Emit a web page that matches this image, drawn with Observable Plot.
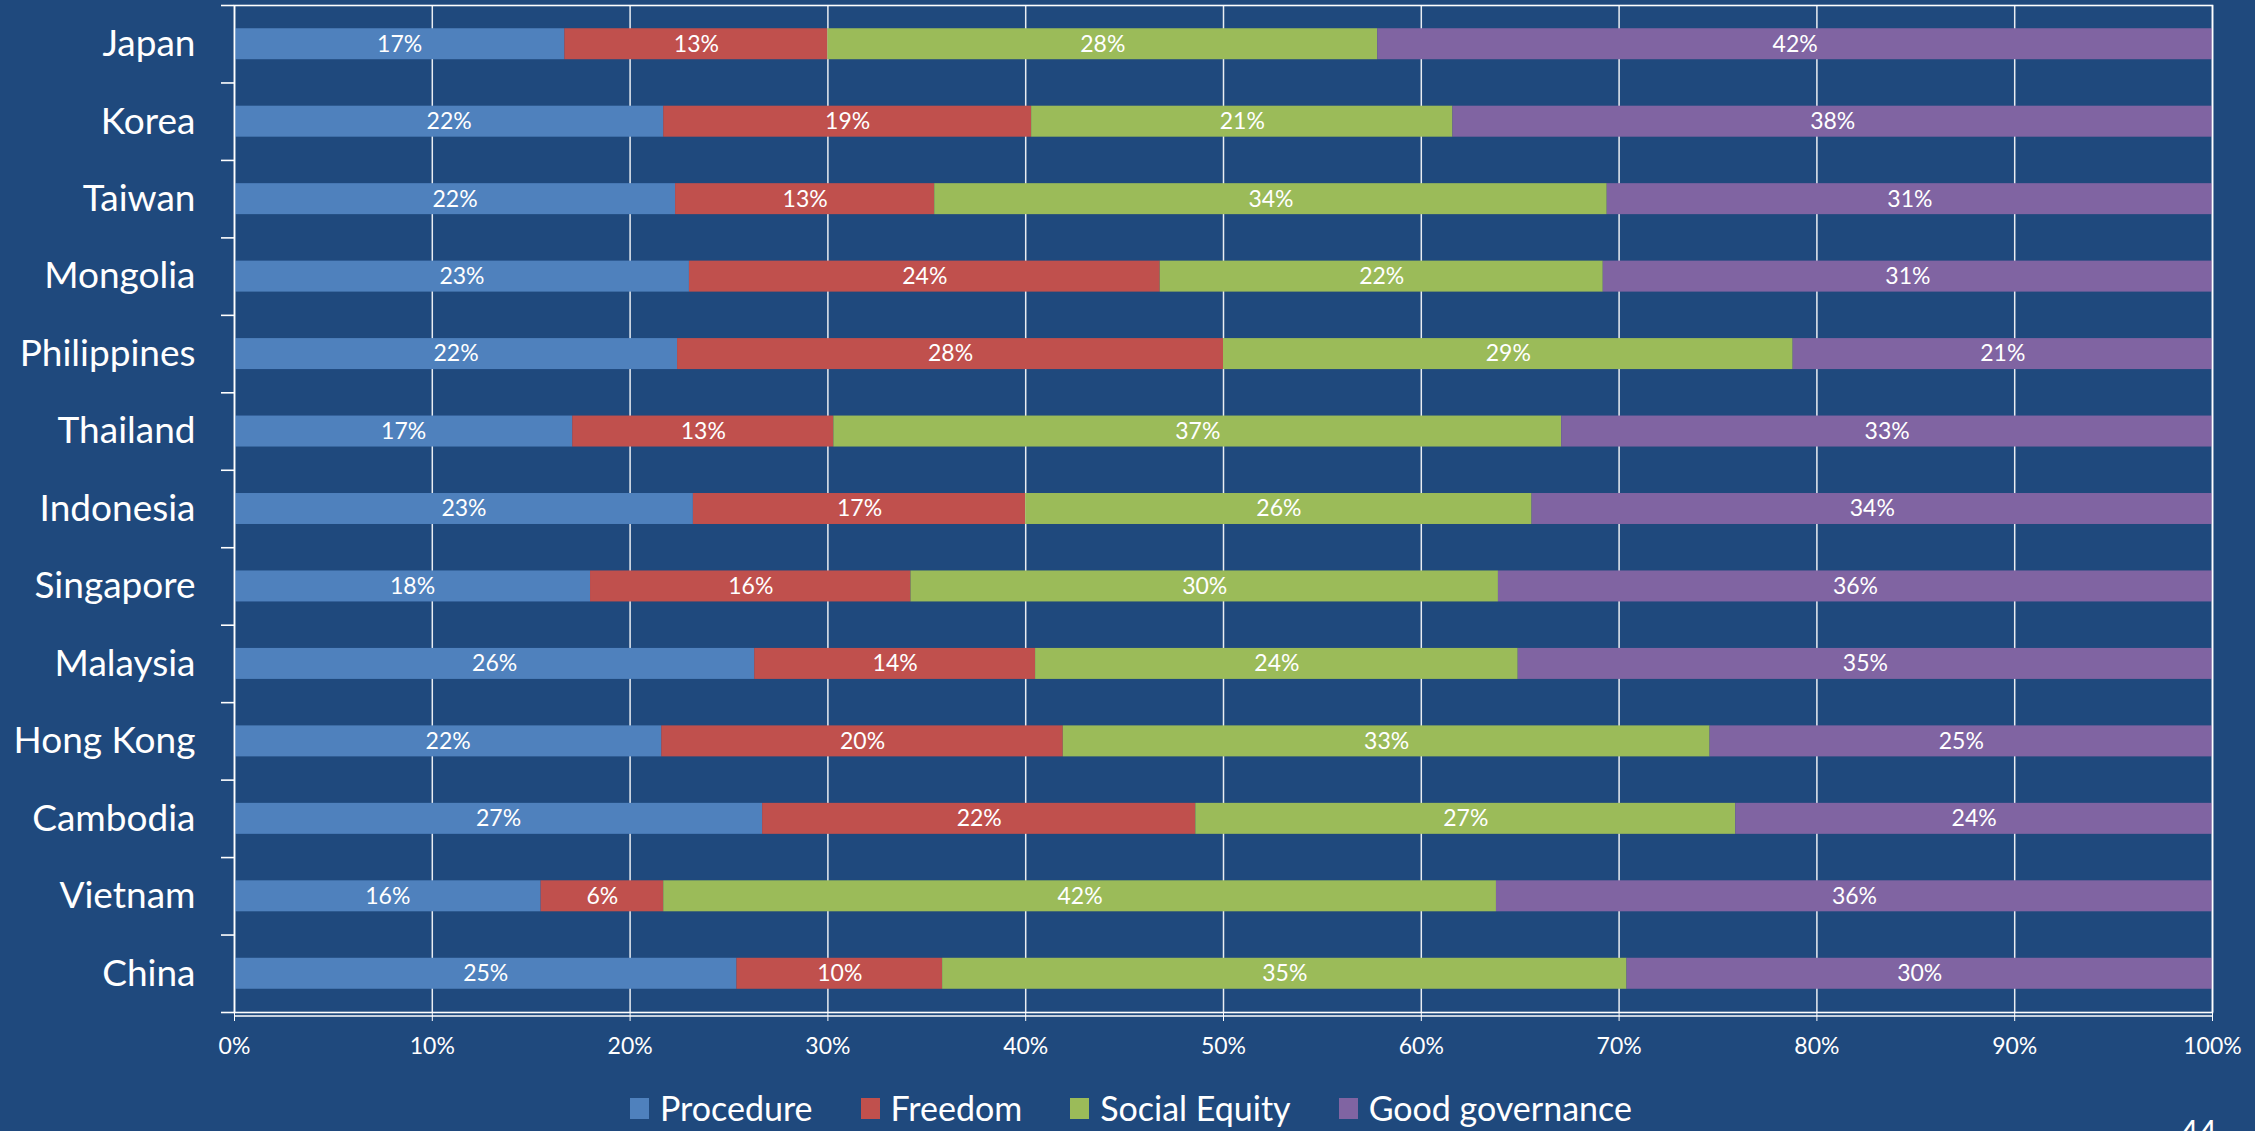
<!DOCTYPE html>
<html>
<head>
<meta charset="utf-8">
<script src="https://cdn.jsdelivr.net/npm/d3@7"></script>
<script src="https://cdn.jsdelivr.net/npm/@observablehq/plot@0.6"></script>
<style>
  html, body { margin: 0; padding: 0; background: #1F497D; width: 2255px; height: 1131px; overflow: hidden; }
  body { position: relative; font-family: Lato, "Open Sans", sans-serif; color: #fff; }
  #chart { position: absolute; left: 0; top: 0; }
  #legend { position: absolute; left: 630px; top: 1086px; display: flex; align-items: center; font-size: 34px; line-height: 44px; white-space: nowrap; }
  .item { display: flex; align-items: center; margin-right: 48px; }
  .sw { width: 19px; height: 21px; margin-right: 11px; }
  #page { position: absolute; left: 2180px; top: 1112px; font-size: 32px; }
</style>
</head>
<body>
<div id="chart"></div>
<div id="legend"></div>
<div id="page">44</div>
<script>
const countries = ["Japan","Korea","Taiwan","Mongolia","Philippines","Thailand","Indonesia","Singapore","Malaysia","Hong Kong","Cambodia","Vietnam","China"];
const categories = ["Procedure","Freedom","Social Equity","Good governance"];
const colors = ["#4F81BD","#C0504D","#9BBB59","#8064A2"];
const procedure      = [16.7,21.7,22.3,23.0,22.4,17.1,23.2,18.0,26.3,21.6,26.7,15.5,25.4];
const freedom        = [13.3,18.6,13.1,23.8,27.6,13.2,16.8,16.2,14.2,20.3,21.9, 6.2,10.4];
const socialEquity   = [27.8,21.3,34.0,22.4,28.8,36.8,25.6,29.7,24.4,32.7,27.3,42.1,34.6];
const goodGovernance = [42.2,38.4,30.6,30.8,21.2,32.9,34.4,36.1,35.1,25.4,24.1,36.2,29.6];
const xTicks = [0,10,20,30,40,50,60,70,80,90,100];

const series = [procedure, freedom, socialEquity, goodGovernance];
const data = [];
countries.forEach((c, i) => {
  categories.forEach((k, j) => data.push({country: c, category: k, value: series[j][i]}));
});

const W = 2255, H = 1080, mT = 5, mB = 68, mL = 234, mR = 43;
const pIn = 0.6, pOut = 0.3;
const step = (H - mT - mB) / (countries.length - pIn + 2 * pOut);
const font = 'Lato, "Open Sans", sans-serif';

const chart = Plot.plot({
  width: W, height: H,
  marginTop: mT, marginBottom: mB, marginLeft: mL, marginRight: mR,
  style: {background: "transparent", color: "#fff", fontFamily: font, overflow: "visible"},
  x: {domain: [0, 100], label: null},
  y: {domain: countries, paddingInner: pIn, paddingOuter: pOut, round: false, label: null},
  color: {domain: categories, range: colors},
  marks: [
    Plot.gridX(xTicks, {stroke: "#fff", strokeOpacity: 0.9, strokeWidth: 1.5}),
    Plot.barX(data, Plot.stackX({x: "value", y: "country", fill: "category", z: "category", order: categories})),
    Plot.text(data, Plot.stackX({x: "value", y: "country", z: "category", order: categories,
      text: d => Math.round(d.value) + "%", fill: "#fff", fontSize: 23})),
    Plot.frame({stroke: "#fff", strokeWidth: 1.6}),
    Plot.tickY([countries[countries.length - 1]], {stroke: "#fff", strokeWidth: 1.6, dy: step / 2 + 3.5}),
    Plot.axisY({tickSize: 13, tickFormat: () => "", dy: -step / 2, stroke: "#fff", strokeWidth: 1.6, label: null}),
    Plot.axisY([countries[countries.length - 1]], {tickSize: 13, tickFormat: () => "", dy: step / 2, stroke: "#fff", strokeWidth: 1.6, label: null}),
    Plot.axisY({tickSize: 0, tickPadding: 39, fontSize: 37, fill: "#fff", label: null}),
    Plot.axisX({ticks: xTicks, tickSize: 9, tickPadding: 16, fontSize: 23, fill: "#fff", stroke: "#fff",
      tickFormat: d => d + "%", label: null})
  ]
});
document.getElementById("chart").appendChild(chart);

const legend = document.getElementById("legend");
categories.forEach((k, i) => {
  const it = document.createElement("div");
  it.className = "item";
  const sw = document.createElement("div");
  sw.className = "sw";
  sw.style.background = colors[i];
  const t = document.createElement("span");
  t.textContent = k;
  it.appendChild(sw); it.appendChild(t);
  legend.appendChild(it);
});
</script>
</body>
</html>
